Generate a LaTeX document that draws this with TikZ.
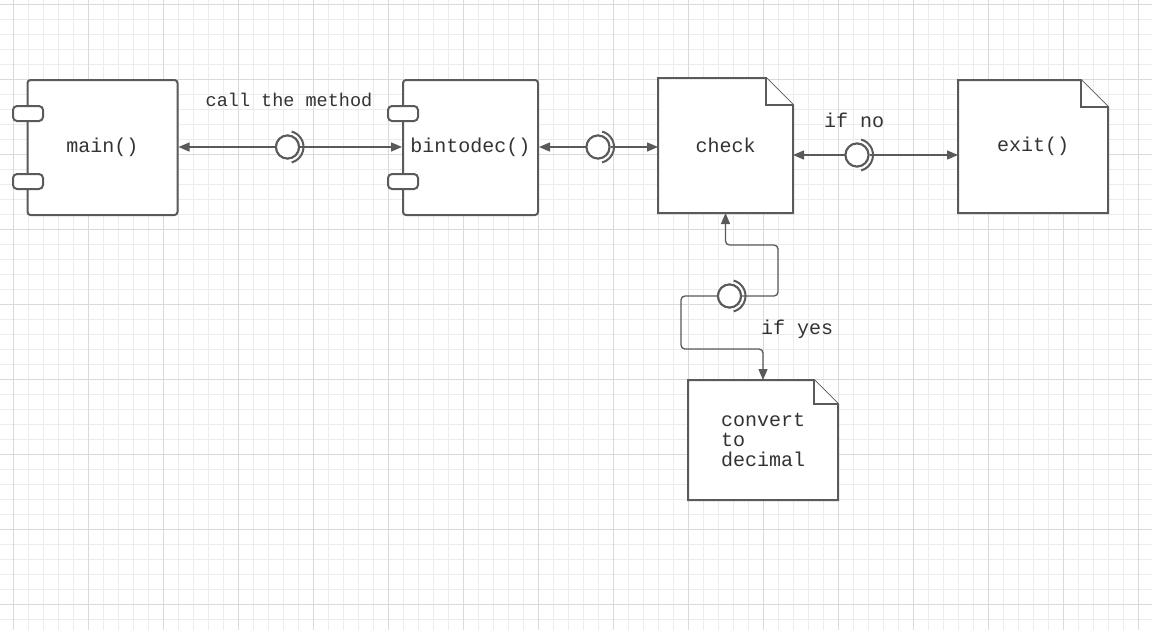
\documentclass[tikz,border=0pt]{standalone}
\usepackage{fontspec}
\setmainfont{Liberation Mono}
\usetikzlibrary{arrows.meta}
\definecolor{linegray}{RGB}{90,90,90}
\definecolor{textgray}{RGB}{51,51,51}
\definecolor{gridlight}{RGB}{236,236,236}
\definecolor{griddark}{RGB}{218,218,218}
\newcommand{\docnote}[3]{%
\filldraw[noteline] (#1.north west) -- ([xshift=-#2pt]#1.north east) -- ([yshift=-#2pt]#1.north east) -- (#1.south east) -- (#1.south west) -- cycle;
\draw[noteline] ([xshift=-#2pt]#1.north east) |- ([yshift=-#2pt]#1.north east);
\node[notetext] (#1txt) at (#1.center) {#3};
}
\begin{document}
\begin{tikzpicture}[x=1pt,y=-1pt,
unitbox/.style={draw=linegray,line width=2pt,fill=white,rounded corners=3pt,inner sep=0pt,outer sep=1pt,
  text=textgray,font=\fontsize{20}{20}\selectfont},
tabbox/.style={draw=linegray,line width=2pt,fill=white,rounded corners=4pt,inner sep=0pt,
  minimum width=30pt,minimum height=15pt},
notebox/.style={inner sep=0pt,outer sep=0pt},
noteline/.style={draw=linegray,line width=2pt,fill=white},
notetext/.style={text=textgray,font=\fontsize{20}{20}\selectfont,align=left,inner sep=0pt},
lolly/.style={circle,draw=linegray,line width=2pt,fill=white,minimum size=23pt,inner sep=0pt},
socket/.style={draw=linegray,line width=2pt},
conn/.style={draw=linegray,line width=1.3pt,-{Triangle[length=11pt,width=9pt]}},
lbl/.style={text=textgray,font=\fontsize{20}{20}\selectfont,anchor=base,inner sep=0pt}]
\useasboundingbox (0,0) rectangle (1152,630);
\fill[white] (0,0) rectangle (1152,630);
\foreach \i in {0,...,76} \draw[gridlight,line width=1pt] ({13+15*\i},0) -- ({13+15*\i},630);
\foreach \j in {0,...,41} \draw[gridlight,line width=1pt] (0,{4+15*\j}) -- (1152,{4+15*\j});
\foreach \i in {0,...,15} \draw[griddark,line width=1pt] ({13+75*\i},0) -- ({13+75*\i},630);
\foreach \j in {0,...,8} \draw[griddark,line width=1pt] (0,{4+75*\j}) -- (1152,{4+75*\j});

\node[unitbox,minimum width=150pt,minimum height=135pt] (mainbox) at (102.5,147.5) {main()};
\node[tabbox] (maintabA) at (28,113.5) {};
\node[tabbox] (maintabB) at (28,181.5) {};
\node[unitbox,minimum width=135pt,minimum height=135pt] (bin) at (470.5,147.5) {bintodec()};
\node[tabbox] (bintabA) at (403,113.5) {};
\node[tabbox] (bintabB) at (403,181.5) {};

\node[notebox,minimum width=135pt,minimum height=135pt] (check) at (725.5,145.5) {};
\docnote{check}{27}{check}
\node[notebox,minimum width=150pt,minimum height=133pt] (exit) at (1033,146.5) {};
\docnote{exit}{27}{exit()}
\node[notebox,minimum width=150pt,minimum height=120pt] (conv) at (763,440) {};
\docnote{conv}{24}{convert\\to\\decimal}

\node[lolly] (lolA) at (287.5,147) {};
\node[lolly] (lolB) at (598,147) {};
\node[lolly] (lolC) at (857,155) {};
\node[lolly] (lolD) at (729.5,296) {};

\draw[conn] (lolA.west) -- (lolA.west -| mainbox.east);
\draw[conn] (lolA.east) -- (lolA.east -| bin.west);
\draw[conn] (lolB.west) -- (lolB.west -| bin.east);
\draw[conn] (lolB.east) -- (lolB.east -| check.west);
\draw[conn] (lolC.west) -- (lolC.west -| check.east);
\draw[conn] (lolC.east) -- (lolC.east -| exit.west);
\draw[conn,rounded corners=4pt] (lolD.east) -| (778,245) -| (check.south);
\draw[conn,rounded corners=4pt] (lolD.west) -| (681,349) -| (conv.north);

\foreach \n in {lolA,lolB,lolC,lolD} {
  \node[lolly] at (\n.center) {};
  \draw[socket] ([shift={(75:16pt)}]\n.center) arc[start angle=75,end angle=-75,radius=16pt];
}

\node[lbl,font=\fontsize{18.5}{18.5}\selectfont] (calllbl) at (289,106.5) {call the method};
\node[lbl] (nolbl) at (854,127) {if no};
\node[lbl] (yeslbl) at (797,334) {if yes};
\end{tikzpicture}
\end{document}
